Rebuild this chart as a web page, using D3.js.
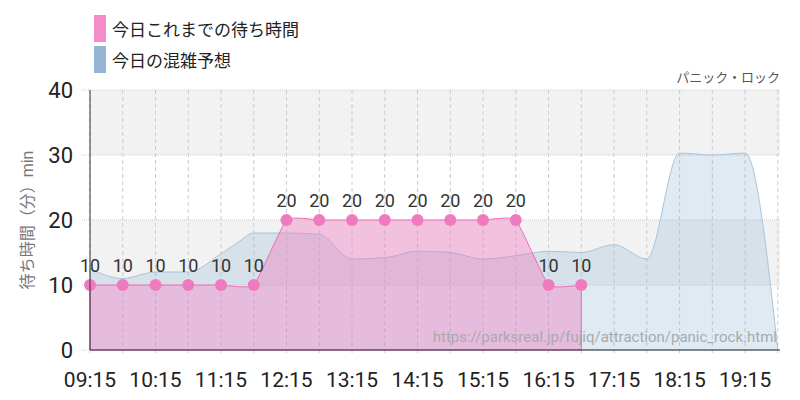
<!DOCTYPE html>
<html><head><meta charset="utf-8">
<script src="https://cdn.jsdelivr.net/npm/d3@7"></script>
<style>
body{margin:0;background:#fff}
text{font-family:"Liberation Sans Narrow","Roboto","Noto Sans CJK JP",sans-serif}
</style></head><body>
<svg id="c" width="800" height="400"></svg>
<script>
// actual waits (every 30 min from 09:15)
const actualTimes = ["09:15","09:45","10:15","10:45","11:15","11:45","12:15","12:45","13:15","13:45","14:15","14:45","15:15","15:45","16:15","16:45"];
const actualWait = [10,10,10,10,10,10,20,20,20,20,20,20,20,20,10,10];
// forecast
const fcTimes = ["09:15","09:45","10:15","10:45","11:15","11:30","11:45","12:15","12:45","13:15","13:45","14:15","14:45","15:15","15:45","16:15","16:45","17:15","17:45","18:15","18:45","19:15","19:45"];
const fcWait = [12.5,11,12,12,14.8,16.5,18,18,17.8,14,14.2,15.2,15,14,14.5,15.2,15,16.2,14,30.3,30,30.3,0];
const tickLabels = ["09:15","10:15","11:15","12:15","13:15","14:15","15:15","16:15","17:15","18:15","19:15"];
const yTicks = [0,10,20,30,40];

const toMin = s => { const p = s.split(":"); return +p[0]*60 + +p[1]; };
const svg = d3.select("#c");
const m = {l:90, r:780, t:90, b:350};
const x = d3.scaleLinear().domain([toMin("09:15"), toMin("19:47")]).range([m.l, m.r]);
const y = d3.scaleLinear().domain([0,40]).range([m.b, m.t]);

// bands
[[30,40],[10,20]].forEach(b => svg.append("rect").attr("x",m.l).attr("width",m.r-m.l)
  .attr("y",y(b[1])).attr("height",y(b[0])-y(b[1])).attr("fill","#f2f2f2"));
// horizontal grid
svg.selectAll(".hg").data(yTicks).enter().append("line")
  .attr("x1",m.l-8).attr("x2",m.r).attr("y1",d=>y(d)).attr("y2",d=>y(d))
  .attr("stroke","#ccc").attr("stroke-dasharray","1,1");
// vertical grid every 30 min
const vg = d3.range(toMin("09:15"), toMin("19:46"), 30);
svg.selectAll(".vg").data(vg).enter().append("line")
  .attr("x1",d=>x(d)).attr("x2",d=>x(d)).attr("y1",m.t).attr("y2",m.b+6)
  .attr("stroke","#ccc").attr("stroke-dasharray","4,3");

const fc = fcTimes.map((t,i)=>({t:toMin(t),v:fcWait[i]}));
const ac = actualTimes.map((t,i)=>({t:toMin(t),v:actualWait[i]}));

svg.append("path").datum(fc)
  .attr("d", d3.area().curve(d3.curveMonotoneX).x(d=>x(d.t)).y0(y(0)).y1(d=>y(d.v)))
  .attr("fill","rgba(150,185,215,0.3)").attr("stroke","#a9c4dc").attr("stroke-width",1);
svg.append("path").datum(ac)
  .attr("d", d3.area().curve(d3.curveCardinal.tension(0.6)).x(d=>x(d.t)).y0(y(0)).y1(d=>y(d.v)))
  .attr("fill","rgba(240,120,190,0.4)").attr("stroke","#f06cb8").attr("stroke-width",1);

svg.selectAll(".dot").data(ac).enter().append("circle")
  .attr("cx",d=>x(d.t)).attr("cy",d=>y(d.v)).attr("r",6).attr("fill","#f07ac0");
svg.selectAll(".lbl").data(ac).enter().append("text")
  .attr("x",d=>x(d.t)).attr("y",d=>y(d.v)-13).attr("text-anchor","middle")
  .attr("font-size",18).attr("fill","#333").text(d=>d.v);

// axes
svg.append("line").attr("x1",m.l).attr("x2",m.l).attr("y1",m.t).attr("y2",m.b).attr("stroke","#333");
svg.append("line").attr("x1",m.l).attr("x2",m.r).attr("y1",m.b).attr("y2",m.b).attr("stroke","#333");
svg.selectAll(".yl").data(yTicks).enter().append("text")
  .attr("x",m.l-17).attr("y",d=>y(d)+8).attr("text-anchor","end")
  .attr("font-size",22).attr("fill","#222").text(d=>d);
svg.selectAll(".xl").data(tickLabels).enter().append("text")
  .attr("x",d=>x(toMin(d))).attr("y",387).attr("text-anchor","middle")
  .attr("font-size",21).attr("fill","#222").text(d=>d);

svg.append("text").attr("transform","translate(33,220) rotate(-90)").attr("text-anchor","middle")
  .attr("font-size",16).attr("fill","#777").attr("font-family","Noto Sans CJK JP").text("待ち時間（分）min");
svg.append("text").attr("x",780).attr("y",82).attr("text-anchor","end")
  .attr("font-size",13).attr("fill","#555").attr("font-family","Noto Sans CJK JP").text("パニック・ロック");
svg.append("text").attr("x",777).attr("y",342).attr("text-anchor","end")
  .attr("font-size",15).attr("fill","#aaa").text("https://parksreal.jp/fujiq/attraction/panic_rock.html");

// legend
const legend = [["今日これまでの待ち時間","#f78ac8"],["今日の混雑予想","#94b5d3"]];
legend.forEach((l,i)=>{
  svg.append("rect").attr("x",94).attr("y",15+i*31).attr("width",12).attr("height",27).attr("fill",l[1]);
  svg.append("text").attr("x",112).attr("y",36+i*31).attr("font-size",17).attr("fill","#222")
    .attr("font-family","Noto Sans CJK JP").text(l[0]);
});
</script></body></html>
